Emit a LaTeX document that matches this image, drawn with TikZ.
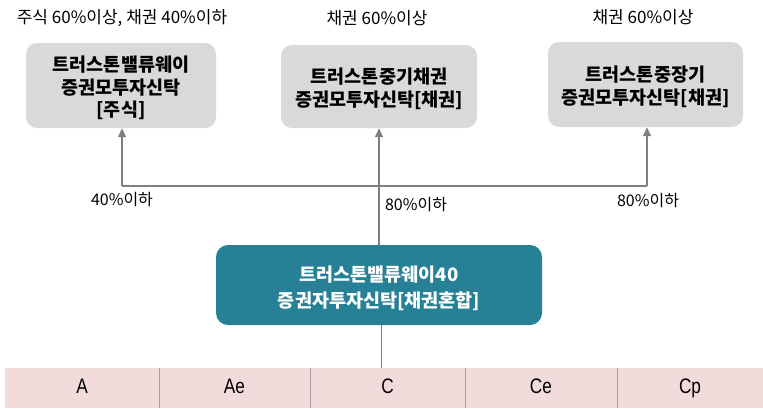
\documentclass[tikz,border=0pt]{standalone}
\usepackage{fontspec}
\setmainfont{Noto Sans CJK KR}
\newfontfamily\condfont[FakeStretch=0.82]{Liberation Sans}
\usetikzlibrary{arrows.meta}
\definecolor{boxgray}{RGB}{217,217,217}
\definecolor{mainteal}{RGB}{38,128,150}
\definecolor{linegray}{RGB}{128,128,128}
\definecolor{cellpink}{RGB}{242,220,219}
\definecolor{divgray}{RGB}{160,160,160}
\newcommand{\pushdown}[1]{\rule{0pt}{#1}}
\tikzset{
  fundbox/.style={draw=none, fill=boxgray, rounded corners=11pt, align=center, font=\fontsize{18.5}{22.5}\selectfont\bfseries, inner sep=0pt},
  mainbox/.style={draw=none, fill=mainteal, rounded corners=12pt, align=center, text=white, font=\fontsize{18.5}{26}\selectfont\bfseries, inner sep=0pt},
  toplbl/.style={font=\fontsize{17}{20}\selectfont, inner sep=0pt},
  lbl/.style={font=\fontsize{16}{18}\selectfont, inner sep=0pt},
  conn/.style={draw=linegray, line width=1.4pt},
  arr/.style={conn, -{Triangle[width=8pt,length=9pt]}},
  cell/.style={fill=cellpink, draw=none, minimum height=40pt, inner sep=0pt, text height=15pt, text depth=4pt, font=\condfont\fontsize{21}{22}\selectfont},
}
\begin{document}
\begin{tikzpicture}[x=1pt,y=-1pt]
\useasboundingbox (0,0) rectangle (763,408);
% top boxes
\node[fundbox, minimum width=190pt, minimum height=85pt] (f1) at (121,85.5) {\pushdown{21pt}트러스톤밸류웨이\\증권모투자신탁\\{}[주식]};
\node[fundbox, minimum width=196pt, minimum height=83pt] (f2) at (379,86.5) {\pushdown{20pt}트러스톤중기채권\\증권모투자신탁[채권]};
\node[fundbox, minimum width=195pt, minimum height=85pt] (f3) at (645.5,84.5) {\pushdown{20pt}트러스톤중장기\\증권모투자신탁[채권]};
% top labels
\node[toplbl] (t1) at (122,18) {주식 60\%이상, 채권 40\%이하};
\node[toplbl] (t2) at (377,18) {채권 60\%이상};
\node[toplbl] (t3) at (643,17) {채권 60\%이상};
% main box
\node[mainbox, minimum width=326pt, minimum height=80pt] (m) at (379,285) {\pushdown{22pt}트러스톤밸류웨이40\\증권자투자신탁[채권혼합]};
% connectors
\coordinate (jl) at (122,186);
\coordinate (jr) at (647,186);
\draw[conn] (jl) -- (jr);
\draw[arr] (jl) -- (f1.south -| jl);
\draw[arr] (jr) -- (f3.south -| jr);
\draw[arr] (m.north) -- (f2.south -| m.north);
% percentage labels
\node[lbl] (p1) at (122,200) {40\%이하};
\node[lbl] (p2) at (416,205) {80\%이하};
\node[lbl] (p3) at (648,201) {80\%이하};
% bottom row
\node[cell, minimum width=154pt] (c1) at (82,388) {A};
\node[cell, minimum width=151pt] (c2) at (234.5,388) {Ae};
\node[cell, minimum width=155pt] (c3) at (387.5,388) {C};
\node[cell, minimum width=152pt] (c4) at (541,388) {Ce};
\node[cell, minimum width=146pt] (c5) at (690,388) {Cp};
\draw[divgray, line width=0.8pt] (c1.north east) -- (c1.south east);
\draw[divgray, line width=0.8pt] (c2.north east) -- (c2.south east);
\draw[divgray, line width=0.8pt] (c3.north east) -- (c3.south east);
\draw[divgray, line width=0.8pt] (c4.north east) -- (c4.south east);
\coordinate (lt) at (381,325);
\coordinate (lb) at (381,368);
\draw[linegray, line width=0.8pt] (lt) -- (lb);
\end{tikzpicture}
\end{document}
